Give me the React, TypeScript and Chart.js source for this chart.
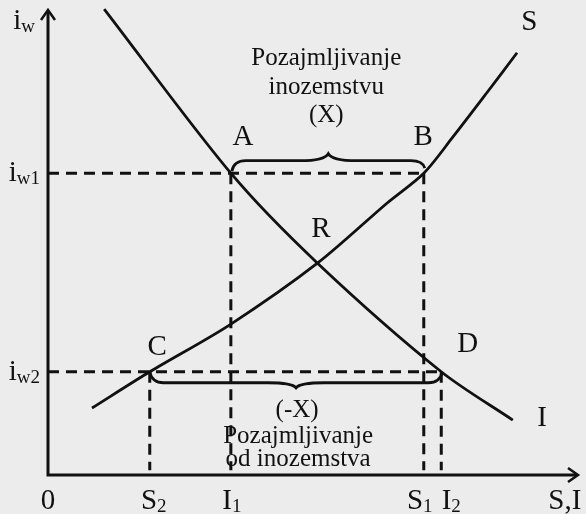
import { useEffect, useRef } from "react";
import { Chart, registerables } from "chart.js";

Chart.register(...registerables);

// Key quantities on the axes (abstract units)
const S2 = 1.92;
const I1 = 3.45;
const S1 = 7.09;
const I2 = 7.42;
const iw1 = 6.49;
const iw2 = 2.22;

// Savings curve S
const supplyX = [0.83, 1.92, 3.43, 5.09, 6.4, 7.09, 7.64, 8.28, 8.85];
const supplyY = [1.44, 2.22, 3.23, 4.56, 5.85, 6.49, 7.27, 8.22, 9.08];
// Investment curve I
const investX = [1.06, 3.45, 5.09, 7.42, 8.77];
const investY = [10.02, 6.49, 4.55, 2.22, 1.18];

// Tick labels
const xTickValues = [0, S2, I1, S1, I2, 9.79];
const xTickMain = ["0", "S", "I", "S", "I", "S,I"];
const xTickSub = ["", "2", "1", "1", "2", ""];
const yTickValues = [iw1, iw2, 9.76];
const yTickMain = ["i", "i", "i"];
const yTickSub = ["w1", "w2", "w"];

// Point labels
const pointLabels = ["A", "B", "R", "C", "D", "S", "I"];
const pointLabelX = [3.68, 7.08, 5.15, 2.06, 7.92, 9.08, 9.32];
const pointLabelY = [7.29, 7.29, 5.31, 2.77, 2.84, 9.76, 1.23];

// Annotation texts
const noteLines = ["Pozajmljivanje", "inozemstvu", "(X)", "(-X)", "Pozajmljivanje", "od inozemstva"];
const noteX = [5.25, 5.25, 5.25, 4.7, 4.72, 4.72];
const noteY = [8.95, 8.34, 7.74, 1.38, 0.82, 0.34];

const SERIF = '"Liberation Serif", "Times New Roman", "DejaVu Serif", serif';
const INK = "#111111";

const pts = (xs: number[], ys: number[]) => xs.map((x, i) => ({ x, y: ys[i] }));

function drawBrace(ctx: CanvasRenderingContext2D, x1: number, y1: number, x2: number, y2: number, dir: number, flat: number, tip: number) {
  const mid = (x1 + x2) / 2;
  const base = (y1 + y2) / 2;
  const fy = base + dir * flat;
  const ty = base + dir * tip;
  const r = 14;
  ctx.beginPath();
  ctx.moveTo(x1, y1);
  ctx.quadraticCurveTo(x1 + 2, fy, x1 + r, fy);
  ctx.lineTo(mid - r * 2, fy);
  ctx.quadraticCurveTo(mid - 4, fy, mid, ty);
  ctx.quadraticCurveTo(mid + 4, fy, mid + r * 2, fy);
  ctx.lineTo(x2 - r, fy);
  ctx.quadraticCurveTo(x2 - 2, fy, x2, y2);
  ctx.stroke();
}

function drawSubLabel(ctx: CanvasRenderingContext2D, main: string, sub: string, cx: number, baseY: number, align: "center" | "right") {
  ctx.font = `29px ${SERIF}`;
  const mw = ctx.measureText(main).width;
  ctx.font = `19px ${SERIF}`;
  const sw = sub ? ctx.measureText(sub).width : 0;
  const total = mw + sw;
  const left = align === "center" ? cx - total / 2 : cx - total;
  ctx.textAlign = "left";
  ctx.textBaseline = "alphabetic";
  ctx.font = `29px ${SERIF}`;
  ctx.fillText(main, left, baseY);
  if (sub) {
    ctx.font = `19px ${SERIF}`;
    ctx.fillText(sub, left + mw, baseY + 3);
  }
}

const diagramPlugin = {
  id: "diagram",
  beforeDraw(chart: any) {
    const { ctx, width, height } = chart;
    ctx.save();
    ctx.fillStyle = "#ececec";
    ctx.fillRect(0, 0, width, height);
    ctx.restore();
  },
  afterDraw(chart: any) {
    const { ctx, chartArea, scales } = chart;
    const xs = scales.x;
    const ys = scales.y;
    const X = (v: number) => xs.getPixelForValue(v);
    const Y = (v: number) => ys.getPixelForValue(v);
    ctx.save();
    ctx.strokeStyle = INK;
    ctx.fillStyle = INK;
    ctx.lineCap = "butt";
    ctx.lineJoin = "miter";

    // axes
    const ox = X(0);
    const oy = Y(0);
    ctx.lineWidth = 3;
    ctx.beginPath();
    ctx.moveTo(ox, oy + 1.5);
    ctx.lineTo(ox, chartArea.top + 2);
    ctx.moveTo(ox - 1.5, oy);
    ctx.lineTo(chartArea.right - 2, oy);
    ctx.stroke();
    // arrow heads
    ctx.lineWidth = 2.5;
    ctx.beginPath();
    ctx.moveTo(ox - 7, chartArea.top + 10);
    ctx.lineTo(ox, chartArea.top);
    ctx.lineTo(ox + 7, chartArea.top + 10);
    ctx.moveTo(chartArea.right - 10, oy - 7);
    ctx.lineTo(chartArea.right, oy);
    ctx.lineTo(chartArea.right - 10, oy + 7);
    ctx.stroke();

    // braces
    ctx.lineWidth = 2.8;
    drawBrace(ctx, X(I1) + 1, Y(iw1) - 2, X(S1) + 1, Y(iw1) - 5, -1, 9, 16);
    drawBrace(ctx, X(S2), Y(iw2), X(I2) + 1, Y(iw2), 1, 11, 16);

    // x tick labels
    const xOffsets = [0, 4, 1, -4, 10, -2];
    for (let i = 0; i < xTickValues.length; i++) {
      drawSubLabel(ctx, xTickMain[i], xTickSub[i], X(xTickValues[i]) + xOffsets[i], oy + 34, "center");
    }
    // y tick labels
    for (let i = 0; i < yTickValues.length; i++) {
      drawSubLabel(ctx, yTickMain[i], yTickSub[i], ox - 8 - (i === 2 ? 5 : 0), Y(yTickValues[i]) + 8, "right");
    }

    // point labels
    ctx.font = `29px ${SERIF}`;
    ctx.textAlign = "center";
    ctx.textBaseline = "middle";
    for (let i = 0; i < pointLabels.length; i++) {
      ctx.fillText(pointLabels[i], X(pointLabelX[i]), Y(pointLabelY[i]) + 1);
    }

    // notes
    ctx.font = `25px ${SERIF}`;
    for (let i = 0; i < noteLines.length; i++) {
      ctx.fillText(noteLines[i], X(noteX[i]), Y(noteY[i]));
    }
    ctx.restore();
  },
};

export default function App() {
  const ref = useRef<HTMLCanvasElement | null>(null);

  useEffect(() => {
    if (!ref.current) return;
    const curve = {
      showLine: true,
      borderColor: INK,
      borderWidth: 2.8,
      pointRadius: 0,
      tension: 0.3,
      clip: false as any,
    };
    const dash = {
      showLine: true,
      borderColor: INK,
      borderWidth: 3,
      borderDash: [11, 7],
      pointRadius: 0,
      tension: 0,
      clip: false as any,
    };
    const chart = new Chart(ref.current, {
      type: "scatter",
      data: {
        datasets: [
          { ...dash, label: "iw1", data: [{ x: 0, y: iw1 }, { x: S1, y: iw1 }] },
          { ...dash, label: "iw2", data: [{ x: 0, y: iw2 }, { x: I2, y: iw2 }] },
          { ...dash, label: "I1", data: [{ x: I1, y: iw1 }, { x: I1, y: 0.1 }] },
          { ...dash, label: "S1", data: [{ x: S1, y: iw1 }, { x: S1, y: 0.1 }] },
          { ...dash, label: "S2", data: [{ x: S2, y: iw2 }, { x: S2, y: 0.1 }] },
          { ...dash, label: "I2", data: [{ x: I2, y: iw2 }, { x: I2, y: 0.1 }] },
          { ...curve, label: "S", data: pts(supplyX, supplyY) },
          { ...curve, label: "I", data: pts(investX, investY) },
        ] as any,
      },
      options: {
        responsive: false,
        animation: false,
        layout: { padding: { left: 48, right: 8, top: 10, bottom: 39 } },
        scales: {
          x: { type: "linear", min: 0, max: 10, display: false },
          y: { type: "linear", min: 0, max: 10, display: false },
        },
        plugins: { legend: { display: false }, tooltip: { enabled: false } },
        elements: { point: { radius: 0 } },
      },
      plugins: [diagramPlugin],
    });
    return () => chart.destroy();
  }, []);

  return (
    <div style={{ position: "fixed", left: 0, top: 0, width: 586, height: 514 }}>
      <canvas ref={ref} width={586} height={514} style={{ display: "block", width: 586, height: 514 }} />
    </div>
  );
}
